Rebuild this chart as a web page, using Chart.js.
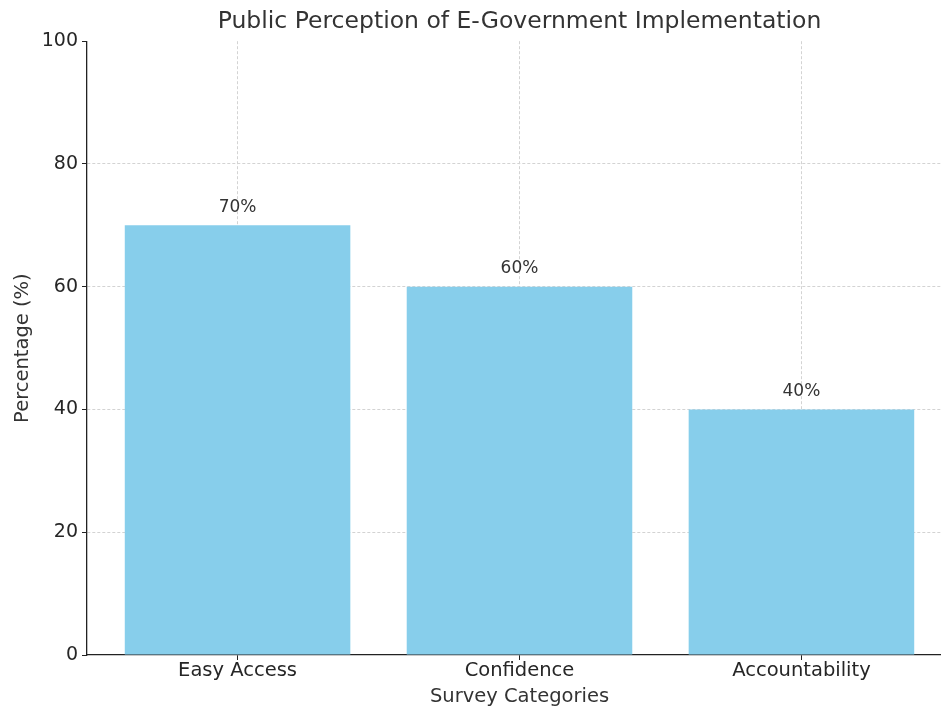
<!DOCTYPE html>
<html>
<head>
<meta charset="utf-8">
<script src="https://cdn.jsdelivr.net/npm/chart.js@4.4.1/dist/chart.umd.min.js"></script>
<style>
html,body{margin:0;padding:0;background:#fff;overflow:hidden;}
#wrap{width:941px;height:706px;position:relative;overflow:hidden;}
</style>
</head>
<body>
<div id="wrap"><canvas id="c" width="952" height="716"></canvas></div>
<script>
const categories = ["Easy Access", "Confidence", "Accountability"];
const percentages = [70, 60, 40];
const yTicks = [0, 20, 40, 60, 80, 100];
const chartTitle = "Public Perception of E-Government Implementation";
const xTitle = "Survey Categories";
const yTitle = "Percentage (%)";

const FONT = "'DejaVu Sans', sans-serif";

const labelPlugin = {
  id: 'barLabels',
  afterDatasetsDraw(chart) {
    const ctx = chart.ctx;
    const meta = chart.getDatasetMeta(0);
    ctx.save();
    ctx.font = "17px " + FONT;
    ctx.fillStyle = '#333333';
    ctx.textAlign = 'center';
    ctx.textBaseline = 'middle';
    meta.data.forEach((bar, i) => {
      ctx.fillText(percentages[i] + '%', bar.x, bar.y - 18);
    });
    ctx.restore();
  }
};

new Chart(document.getElementById('c'), {
  type: 'bar',
  data: {
    datasets: [{
      data: categories.map((c, i) => ({x: i, y: percentages[i]})),
      backgroundColor: '#87CEEB',
      borderWidth: 0,
      barPercentage: 1.0,
      categoryPercentage: 0.8
    }]
  },
  options: {
    responsive: false,
    animation: false,
    layout: {padding: {left: 0, right: 0, top: 0, bottom: 0}},
    plugins: {
      legend: {display: false},
      tooltip: {enabled: false},
      title: {
        display: true,
        fullSize: false,
        text: chartTitle,
        color: '#333333',
        font: {family: FONT, size: 23.5, weight: 'normal'},
        padding: {top: 8, bottom: 5}
      }
    },
    scales: {
      x: {
        type: 'linear',
        min: -0.534,
        max: 2.534,
        offset: false,
        z: 1,
        afterBuildTicks(scale) { scale.ticks = categories.map((c, i) => ({value: i})); },
        afterFit(scale) { scale.height = 61; },
        ticks: {
          callback: (v) => categories[v],
          color: '#262626',
          font: {family: FONT, size: 19.5},
          padding: -1,
          maxRotation: 0,
          autoSkip: false
        },
        grid: {
          offset: false,
          color: '#d3d3d3',
          lineWidth: 1,
          tickColor: '#222222',
          tickLength: 5,
          tickBorderDash: [],
          drawOnChartArea: true
        },
        border: {display: true, color: '#222222', width: 1.3, dash: [3, 2]},
        title: {
          display: true,
          text: xTitle,
          color: '#333333',
          font: {family: FONT, size: 19.5},
          padding: {top: 0, bottom: 7}
        }
      },
      y: {
        min: 0,
        max: 100,
        z: 1,
        afterBuildTicks(scale) { scale.ticks = yTicks.map(v => ({value: v})); },
        afterFit(scale) { scale.width = 87; },
        ticks: {
          color: '#262626',
          font: {family: FONT, size: 19},
          padding: 4
        },
        grid: {
          color: (ctx) => (ctx.tick && (ctx.tick.value === 100 || ctx.tick.value === 0)) ? 'rgba(0,0,0,0)' : '#d3d3d3',
          lineWidth: 1,
          tickColor: '#222222',
          tickLength: 5,
          tickBorderDash: []
        },
        border: {display: true, color: '#222222', width: 1.3, dash: [3, 2]},
        title: {
          display: true,
          text: yTitle,
          color: '#333333',
          font: {family: FONT, size: 19.5},
          padding: {top: 11, bottom: 0}
        }
      }
    }
  },
  plugins: [labelPlugin]
});
</script>
</body>
</html>
